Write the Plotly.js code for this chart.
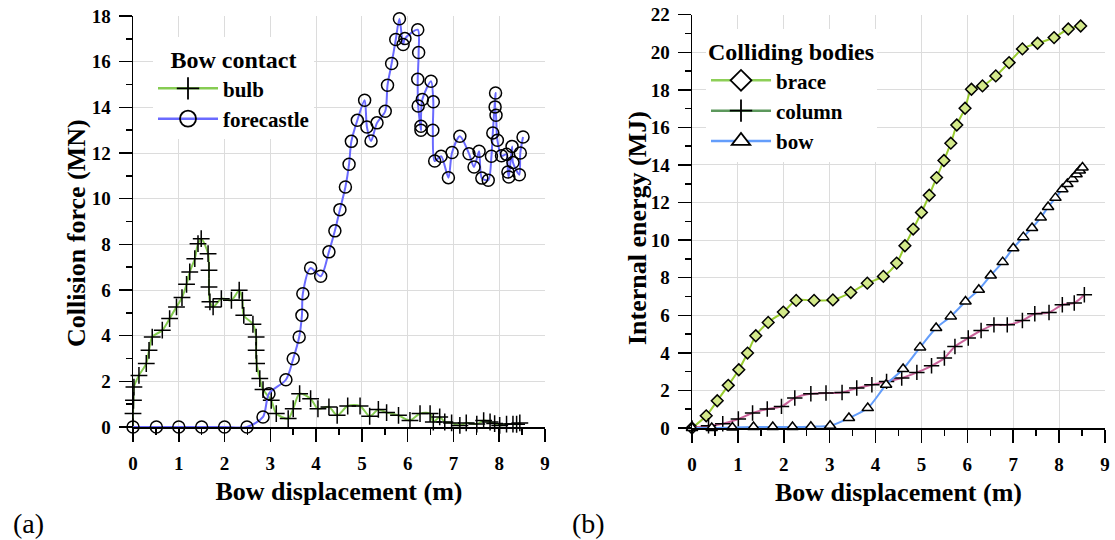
<!DOCTYPE html>
<html>
<head>
<meta charset="utf-8">
<script src="https://cdn.plot.ly/plotly-3.0.1.min.js"></script>
<style>
  html, body { margin: 0; padding: 0; background: #ffffff; }
  #chart { width: 1115px; height: 540px; }
</style>
</head>
<body>
<div id="chart"></div>
<script>
// (a) Collision force vs. bow displacement
const bulbX = [0, 0, 0.01, 0.02, 0.13, 0.29, 0.35, 0.42, 0.64, 0.80, 0.95, 1.07, 1.17, 1.24, 1.35, 1.42, 1.49,
  1.64, 1.66, 1.66, 1.68, 1.75, 1.93, 2.15, 2.32, 2.39, 2.42, 2.62, 2.69, 2.69, 2.70, 2.77, 2.84, 3.02, 3.13,
  3.39, 3.50, 3.64, 3.88, 4.04, 4.28, 4.46, 4.69, 4.96, 5.17, 5.36, 5.54, 5.80, 6.05, 6.27, 6.49, 6.56, 6.70,
  6.81, 6.96, 7.14, 7.28, 7.51, 7.66, 7.80, 7.90, 8.01, 8.16, 8.30, 8.38, 8.45];
const bulbY = [0, 0.59, 1.17, 1.75, 2.26, 2.78, 3.36, 3.94, 4.24, 4.75, 5.26, 5.67, 6.25, 6.79, 7.37, 8.03, 8.25,
  7.59, 6.86, 6.13, 5.48, 5.26, 5.62, 5.55, 5.99, 5.55, 4.89, 4.50, 3.94, 3.36, 2.78, 2.12, 1.64, 1.17, 0.59,
  0.37, 0.80, 1.46, 1.24, 0.80, 0.88, 0.51, 0.92, 0.92, 0.47, 0.77, 0.63, 0.51, 0.29, 0.59, 0.59, 0.22, 0.44,
  0.22, 0.18, 0.07, 0.18, 0.13, 0.28, 0.22, 0.15, 0.07, 0.13, 0.13, 0.12, 0.18];

const foreX = [0, 0.51, 1.0, 1.5, 2.0, 2.49, 2.84, 2.97, 3.34, 3.50, 3.63, 3.69, 3.71, 3.88, 4.10, 4.28, 4.41,
  4.52, 4.64, 4.72, 4.77, 4.90, 5.06, 5.11, 5.20, 5.33, 5.51, 5.56, 5.65, 5.74, 5.82, 5.90, 5.94, 6.22, 6.24,
  6.22, 6.23, 6.29, 6.29, 6.32, 6.51, 6.56, 6.55, 6.59, 6.73, 6.89, 6.97, 7.14, 7.34, 7.45, 7.56, 7.62, 7.76,
  7.83, 7.86, 7.92, 7.91, 7.93, 7.96, 8.05, 8.16, 8.19, 8.21, 8.28, 8.30, 8.44, 8.46, 8.52];
const foreY = [0, 0, 0, 0, 0, 0, 0.44, 1.46, 2.07, 2.99, 3.94, 4.89, 5.84, 6.96, 6.60, 7.67, 8.59,
  9.52, 10.51, 11.51, 12.51, 13.43, 14.31, 13.14, 12.53, 13.32, 13.83, 14.97, 15.92, 16.97, 17.88, 16.75, 17.01, 17.40, 16.40,
  15.23, 14.06, 13.00, 13.17, 14.34, 15.14, 14.24, 13.00, 11.65, 11.86, 10.92, 12.02, 12.73, 11.97, 11.39, 12.08, 10.90, 10.81,
  11.86, 12.88, 14.63, 14.02, 13.65, 12.56, 11.88, 11.94, 11.17, 10.95, 12.29, 11.58, 11.05, 12.00, 12.70];

// (b) Internal energy vs. bow displacement
const braceX = [0, 0.31, 0.55, 0.79, 1.02, 1.21, 1.39, 1.66, 1.99, 2.27, 2.66, 3.07, 3.46, 3.82, 4.17, 4.46,
  4.64, 4.82, 5.00, 5.17, 5.33, 5.49, 5.64, 5.77, 5.95, 6.09, 6.33, 6.62, 6.91, 7.20, 7.53, 7.89, 8.20, 8.47];
const braceY = [0, 0.65, 1.45, 2.27, 3.10, 3.99, 4.91, 5.62, 6.17, 6.79, 6.79, 6.82, 7.21, 7.71, 8.07, 8.78,
  9.70, 10.59, 11.47, 12.39, 13.33, 14.24, 15.16, 16.13, 17.02, 18.03, 18.21, 18.74, 19.45, 20.18, 20.48, 20.78, 21.24, 21.40];

const columnX = [0, 0.36, 0.67, 1.01, 1.32, 1.64, 1.95, 2.24, 2.59, 2.92, 3.27, 3.59, 3.92, 4.24, 4.57, 4.90,
  5.22, 5.50, 5.73, 6.02, 6.30, 6.58, 6.87, 7.20, 7.47, 7.78, 8.07, 8.33, 8.55];
const columnY = [0, 0.12, 0.23, 0.48, 0.80, 1.01, 1.15, 1.60, 1.82, 1.86, 1.89, 2.13, 2.30, 2.48, 2.66, 2.96,
  3.31, 3.72, 4.34, 4.79, 5.19, 5.49, 5.49, 5.72, 6.08, 6.15, 6.56, 6.65, 7.09];

const bowX = [0, 0.43, 0.88, 1.34, 1.76, 2.19, 2.59, 3.01, 3.42, 3.83, 4.23, 4.60, 4.97, 5.32, 5.64, 5.96,
  6.25, 6.51, 6.77, 7.00, 7.22, 7.41, 7.60, 7.76, 7.92, 8.07, 8.18, 8.29, 8.38, 8.45, 8.51];
const bowY = [0, 0, 0.03, 0.05, 0.05, 0.05, 0.07, 0.12, 0.53, 1.06, 2.30, 3.14, 4.29, 5.32, 5.94, 6.73,
  7.36, 8.12, 8.83, 9.57, 10.16, 10.65, 11.20, 11.76, 12.25, 12.71, 12.99, 13.26, 13.51, 13.71, 13.87];

const SERIF = 'Liberation Serif';
const BLACK = '#000000';

// series styles: line colour on the plot, line colour in the key, marker symbol/fill
const styles = {
  bulb:       { line: '#86cc52', key: '#86cc52', symbol: 'cross-thin', fill: BLACK, size: 12 },
  forecastle: { line: '#6a6aff', key: '#6a6aff', symbol: 'circle-open', fill: BLACK, size: 12 },
  brace:      { line: '#9acd32', key: '#8dcf57', symbol: 'diamond', fill: '#d3e98a', size: 9 },
  column:     { line: '#c9639a', key: '#5c985c', symbol: 'cross-thin', fill: BLACK, size: 11 },
  bow:        { line: '#639dfb', key: '#639dfb', symbol: 'triangle-up', fill: '#ffffff', size: 10 }
};

function series(name, xs, ys, axisNo, legendId) {
  const s = styles[name];
  return {
    x: xs, y: ys, name: name, type: 'scatter', mode: 'lines+markers',
    xaxis: axisNo === 1 ? 'x' : 'x2', yaxis: axisNo === 1 ? 'y' : 'y2',
    line: { color: s.line, width: 2, shape: 'spline', smoothing: 0.8 },
    marker: { symbol: s.symbol, size: s.size, color: s.fill, line: { color: BLACK, width: 1.5 } },
    cliponaxis: false, showlegend: false, legend: legendId
  };
}
// key entries drawn with larger, unfilled symbols
function keyEntry(name, axisNo, legendId) {
  const s = styles[name];
  const openFill = s.symbol === 'diamond' || s.symbol === 'triangle-up' ? '#ffffff' : s.fill;
  return {
    x: [null], y: [null], name: name, type: 'scatter', mode: 'lines+markers',
    xaxis: axisNo === 1 ? 'x' : 'x2', yaxis: axisNo === 1 ? 'y' : 'y2',
    line: { color: s.key, width: 2.5 },
    marker: { symbol: s.symbol, size: 16, color: openFill, line: { color: BLACK, width: 1.8 } },
    showlegend: true, legend: legendId
  };
}

const traces = [
  series('bulb', bulbX, bulbY, 1, 'legend'),
  series('forecastle', foreX, foreY, 1, 'legend'),
  series('brace', braceX, braceY, 2, 'legend2'),
  series('column', columnX, columnY, 2, 'legend2'),
  series('bow', bowX, bowY, 2, 'legend2'),
  keyEntry('bulb', 1, 'legend'),
  keyEntry('forecastle', 1, 'legend'),
  keyEntry('brace', 2, 'legend2'),
  keyEntry('column', 2, 'legend2'),
  keyEntry('bow', 2, 'legend2')
];

const tickFont = { family: SERIF, size: 19, color: BLACK, weight: 'bold' };
const titleFont = { family: SERIF, size: 26, color: BLACK, weight: 'bold' };

function xAxis(domain, anchor) {
  return {
    domain: domain, anchor: anchor, range: [0, 9], tick0: 0, dtick: 1,
    ticks: 'outside', ticklen: 13, tickwidth: 1.5, tickcolor: BLACK, ticklabelstandoff: 6,
    minor: { dtick: 0.5, ticks: 'outside', ticklen: 6, tickwidth: 1.5, tickcolor: BLACK, showgrid: false },
    showline: true, linecolor: BLACK, linewidth: 1.5,
    showgrid: true, gridcolor: '#dcdcdc', gridwidth: 1, zeroline: false,
    tickfont: tickFont,
    title: { text: 'Bow displacement (m)', font: titleFont, standoff: 8 }
  };
}
function yAxis(domain, anchor, top) {
  return {
    domain: domain, anchor: anchor, range: [0, top], tick0: 0, dtick: 2,
    ticks: 'outside', ticklen: 13, tickwidth: 1.5, tickcolor: BLACK, ticklabelstandoff: 4,
    minor: { dtick: 1, ticks: 'outside', ticklen: 6, tickwidth: 1.5, tickcolor: BLACK, showgrid: false },
    showline: true, linecolor: BLACK, linewidth: 1.5,
    showgrid: true, gridcolor: '#dcdcdc', gridwidth: 1, zeroline: false,
    tickfont: tickFont
  };
}

const legendFont = { family: SERIF, size: 21, color: BLACK, weight: 'bold' };
const legendTitleFont = { family: SERIF, size: 24, color: BLACK, weight: 'bold' };

const layout = {
  width: 1115, height: 540,
  margin: { l: 0, r: 0, t: 0, b: 0 },
  font: { family: SERIF, color: BLACK },
  paper_bgcolor: '#ffffff', plot_bgcolor: '#ffffff',
  showlegend: true,
  xaxis: xAxis([133 / 1115, 545 / 1115], 'y'),
  yaxis: yAxis([1 - 427 / 540, 1 - 16 / 540], 'x', 18),
  xaxis2: xAxis([692 / 1115, 1105 / 1115], 'y2'),
  yaxis2: yAxis([1 - 428 / 540, 1 - 14.7 / 540], 'x2', 22),
  legend: {
    x: 153 / 1115, y: 1 - 37 / 540, xanchor: 'left', yanchor: 'top',
    bgcolor: '#ffffff', borderwidth: 0, font: legendFont, itemwidth: 60, tracegroupgap: 0,
    title: { text: 'Bow contact', font: legendTitleFont, side: 'top center' }
  },
  legend2: {
    x: 706 / 1115, y: 1 - 29 / 540, xanchor: 'left', yanchor: 'top',
    bgcolor: '#ffffff', borderwidth: 0, font: legendFont, itemwidth: 60, tracegroupgap: 0,
    title: { text: 'Colliding bodies', font: legendTitleFont, side: 'top' }
  },
  annotations: [
    { text: 'Collision force (MN)', textangle: -90, xref: 'paper', yref: 'paper',
      x: 76 / 1115, y: 1 - 233 / 540, xanchor: 'center', yanchor: 'middle', showarrow: false, font: titleFont },
    { text: 'Internal energy (MJ)', textangle: -90, xref: 'paper', yref: 'paper',
      x: 637 / 1115, y: 1 - 228 / 540, xanchor: 'center', yanchor: 'middle', showarrow: false, font: titleFont },
    { text: '(a)', xref: 'paper', yref: 'paper', x: 28 / 1115, y: 1 - 523 / 540,
      xanchor: 'center', yanchor: 'middle', showarrow: false,
      font: { family: SERIF, size: 28, color: BLACK } },
    { text: '(b)', xref: 'paper', yref: 'paper', x: 588 / 1115, y: 1 - 523 / 540,
      xanchor: 'center', yanchor: 'middle', showarrow: false,
      font: { family: SERIF, size: 28, color: BLACK } }
  ]
};

Plotly.newPlot('chart', traces, layout, { displayModeBar: false, staticPlot: true });
</script>
</body>
</html>
